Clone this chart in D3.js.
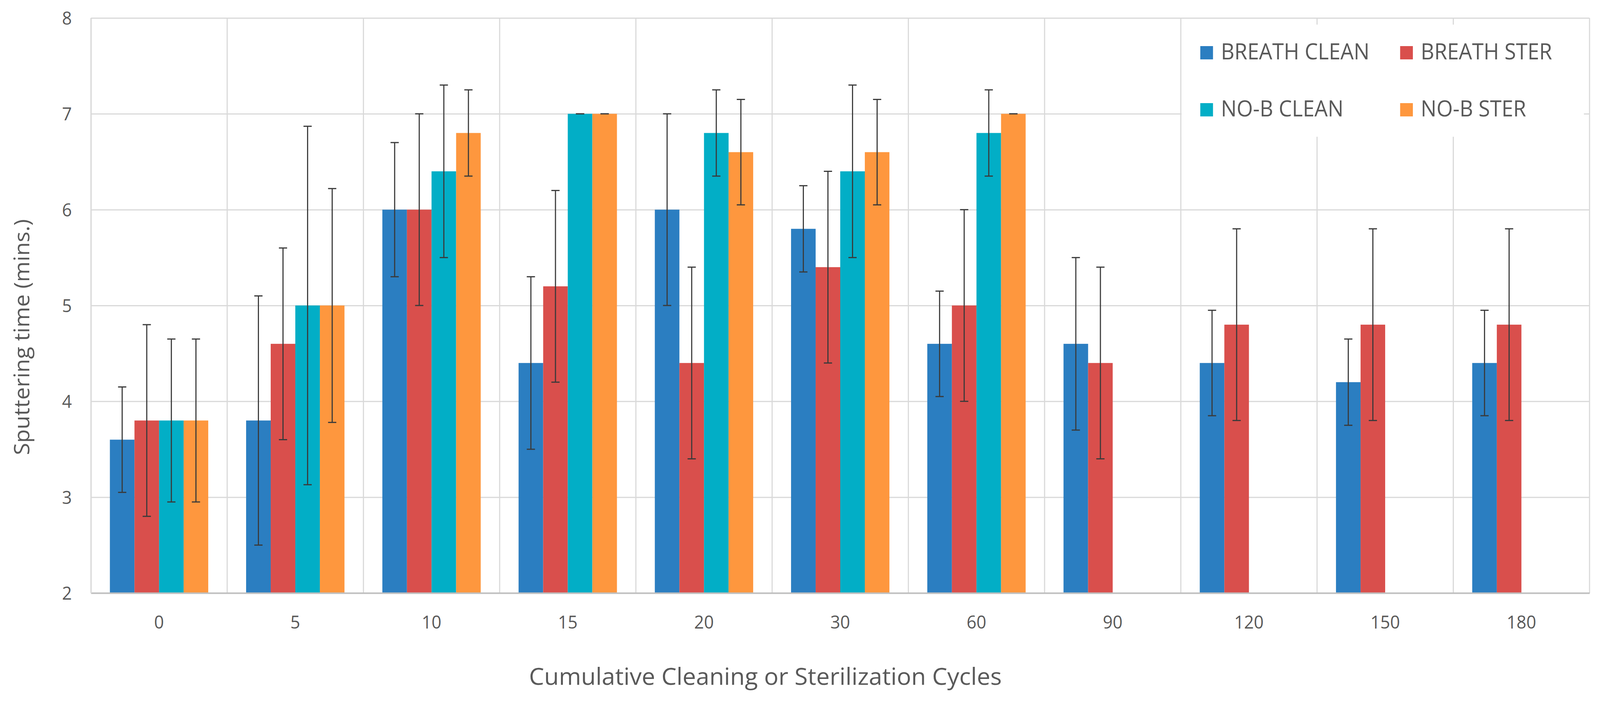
<!DOCTYPE html>
<html lang="en">
<head>
  <meta charset="utf-8">
  <title>Sputtering time</title>
  <script src="https://cdnjs.cloudflare.com/ajax/libs/d3/7.8.5/d3.min.js"></script>
  <style>
    html, body { margin: 0; padding: 0; background: #fff; overflow: hidden; }
    #chart svg { display: block; width: 100vw; height: 100vh; }
    #chart text { font-family: "Open Sans", sans-serif; fill: #595959; }
  </style>
</head>
<body>
  <div id="chart"></div>

  <script type="text/javascript">
    "use strict"

    // data
    var ciclos = ["0", "5", "10", "15", "20", "30", "60", "90", "120", "150", "180"];
    var series = ["BREATH CLEAN", "BREATH STER", "NO-B CLEAN", "NO-B STER"];
    var cores = ["#2b7ec1", "#d94f4c", "#02aec6", "#fe973e"];

    var breathClean    = [3.6, 3.8, 6.0, 4.4, 6.0, 5.8, 4.6, 4.6, 4.4, 4.2, 4.4];
    var breathCleanErr = [0.55, 1.3, 0.7, 0.9, 1.0, 0.45, 0.55, 0.9, 0.55, 0.45, 0.55];
    var breathSter     = [3.8, 4.6, 6.0, 5.2, 4.4, 5.4, 5.0, 4.4, 4.8, 4.8, 4.8];
    var breathSterErr  = [1.0, 1.0, 1.0, 1.0, 1.0, 1.0, 1.0, 1.0, 1.0, 1.0, 1.0];
    var noBClean       = [3.8, 5.0, 6.4, 7.0, 6.8, 6.4, 6.8, null, null, null, null];
    var noBCleanErr    = [0.85, 1.87, 0.9, 0, 0.45, 0.9, 0.45, null, null, null, null];
    var noBSter        = [3.8, 5.0, 6.8, 7.0, 6.6, 6.6, 7.0, null, null, null, null];
    var noBSterErr     = [0.85, 1.22, 0.45, 0, 0.55, 0.55, 0, null, null, null, null];
    var yTicks = [2, 3, 4, 5, 6, 7, 8];

    var valores = [breathClean, breathSter, noBClean, noBSter];
    var erros = [breathCleanErr, breathSterErr, noBCleanErr, noBSterErr];

    var dados = [];
    series.forEach(function(s, j) {
      ciclos.forEach(function(c, i) {
        if (valores[j][i] != null)
          dados.push({ciclo: c, serie: s, valor: valores[j][i], erro: erros[j][i]});
      });
    });

    var larguraSVG = 4275, alturaSVG = 1797;
    var margin = {top: 46, right: 28, bottom: 279, left: 243},
        larguraVis = larguraSVG - margin.left - margin.right,
        alturaVis = alturaSVG - margin.top - margin.bottom;

    // viewBox so the drawing fits the window whatever its css size
    var svg = d3.select('#chart')
      .append('svg')
        .attr('viewBox', '0 0 ' + larguraSVG + ' ' + alturaSVG)
        .attr('preserveAspectRatio', 'none');

    var grafico = svg.append('g')
        .attr('transform', 'translate(' + margin.left + ',' + margin.top + ')');

    // escalas
    var x0 = d3.scaleBand().domain(ciclos).range([0, larguraVis]);
    var bw = x0.bandwidth();
    var x1 = d3.scaleBand().domain(series).range([bw * 0.139, bw * 0.861]);
    var yScale = d3.scaleLinear().domain([2, 8]).range([alturaVis, 0]);
    var cor = d3.scaleOrdinal().domain(series).range(cores);

    // grade horizontal
    grafico.append('g')
      .call(d3.axisLeft(yScale).tickValues(yTicks).tickSize(-larguraVis).tickFormat(''))
      .call(g => g.select('.domain').remove())
      .call(g => g.selectAll('line').attr('stroke', '#d9d9d9').attr('stroke-width', 3));

    // grade vertical (limites das categorias)
    var limites = ciclos.map(c => x0(c)).concat([larguraVis]);
    grafico.append('g')
      .selectAll('line')
      .data(limites)
      .enter()
        .append('line')
          .attr('x1', d => d).attr('x2', d => d)
          .attr('y1', 0).attr('y2', alturaVis)
          .attr('stroke', '#d9d9d9')
          .attr('stroke-width', 3);

    // barras
    grafico.append('g')
      .selectAll('rect')
      .data(dados)
      .enter()
        .append('rect')
          .attr('x', d => x0(d.ciclo) + x1(d.serie))
          .attr('width', x1.bandwidth())
          .attr('y', d => yScale(d.valor))
          .attr('height', d => alturaVis - yScale(d.valor))
          .attr('fill', d => cor(d.serie));

    // barras de erro
    var capW = 11;
    var eb = grafico.append('g')
      .selectAll('g')
      .data(dados)
      .enter()
        .append('g')
          .attr('stroke', '#3a3a3a')
          .attr('stroke-width', 3);
    var cx = d => x0(d.ciclo) + x1(d.serie) + x1.bandwidth() / 2;
    eb.append('line')
      .attr('x1', cx).attr('x2', cx)
      .attr('y1', d => yScale(d.valor + d.erro))
      .attr('y2', d => yScale(d.valor - d.erro));
    eb.append('line')
      .attr('x1', d => cx(d) - capW).attr('x2', d => cx(d) + capW)
      .attr('y1', d => yScale(d.valor + d.erro))
      .attr('y2', d => yScale(d.valor + d.erro));
    eb.append('line')
      .attr('x1', d => cx(d) - capW).attr('x2', d => cx(d) + capW)
      .attr('y1', d => yScale(d.valor - d.erro))
      .attr('y2', d => yScale(d.valor - d.erro));

    // eixo x
    grafico.append('g')
      .attr('transform', 'translate(0,' + alturaVis + ')')
      .call(d3.axisBottom(x0).tickSize(0).tickPadding(58))
      .call(g => g.select('.domain').attr('stroke', '#bfbfbf').attr('stroke-width', 4))
      .call(g => g.selectAll('text').style('font-size', '46px'));

    // eixo y
    grafico.append('g')
      .call(d3.axisLeft(yScale).tickValues(yTicks).tickFormat(d3.format('d')).tickSize(0).tickPadding(51))
      .call(g => g.select('.domain').attr('stroke', '#d9d9d9').attr('stroke-width', 3))
      .call(g => g.selectAll('text').style('font-size', '46px').attr('dy', '0.36em'));

    // legenda
    var legenda = svg.append('g');
    legenda.append('rect')
      .attr('x', 3157).attr('y', 63)
      .attr('width', 1075).attr('height', 287)
      .attr('fill', '#fff');
    var itens = legenda.selectAll('g.item')
      .data(series)
      .enter()
        .append('g')
          .attr('class', 'item')
          .attr('transform', (d, i) => 'translate(' + (3207 + (i % 2) * 534) + ',' + (118 + Math.floor(i / 2) * 146) + ')');
    itens.append('rect')
      .attr('width', 34).attr('height', 34)
      .attr('fill', d => cor(d));
    itens.append('text')
      .attr('x', 55).attr('y', 34)
      .style('font-size', '56px')
      .text(d => d);

    // titulos dos eixos
    svg.append('text')
      .attr('transform', 'translate(78,863) rotate(-90)')
      .attr('text-anchor', 'middle')
      .style('font-size', '57px')
      .text('Sputtering time (mins.)');

    svg.append('text')
      .attr('x', 2045).attr('y', 1753)
      .attr('text-anchor', 'middle')
      .attr('textLength', 1263)
      .attr('lengthAdjust', 'spacingAndGlyphs')
      .style('font-size', '61px')
      .text('Cumulative Cleaning or Sterilization Cycles');
  </script>
</body>
</html>
